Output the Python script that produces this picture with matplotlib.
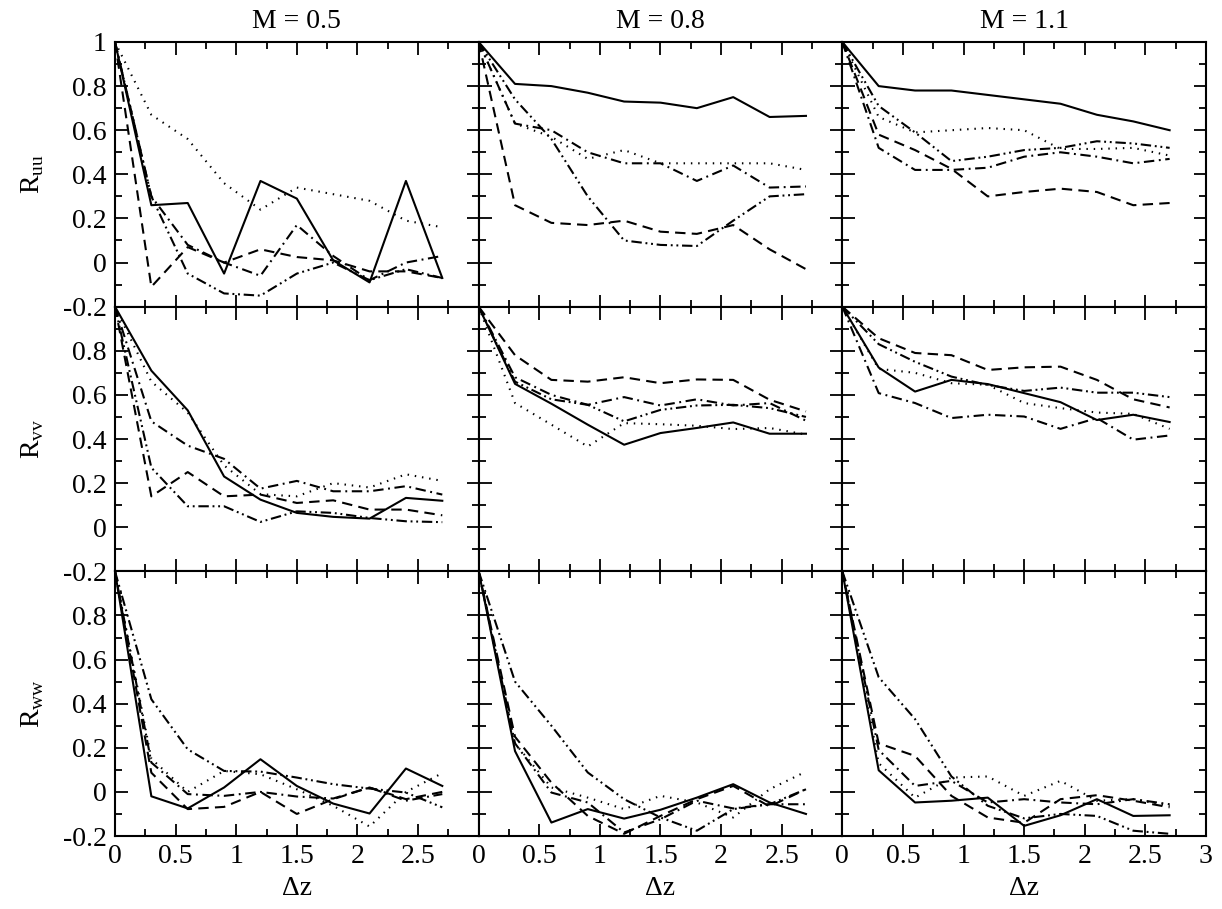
import matplotlib
matplotlib.use("Agg")
import matplotlib.pyplot as plt
from matplotlib.ticker import MultipleLocator, FuncFormatter

plt.rcParams['font.family'] = ['Liberation Serif', 'DejaVu Serif']
plt.rcParams['mathtext.fontset'] = 'custom'
plt.rcParams['mathtext.rm'] = 'Liberation Serif'
plt.rcParams['axes.unicode_minus'] = False

# separation points
dz = [0.0, 0.3, 0.6, 0.9, 1.2, 1.5, 1.8, 2.1, 2.4, 2.7]

mach = ["M = 0.5", "M = 0.8", "M = 1.1"]
row_labels = [r"R$_{\rm uu}$", r"R$_{\rm vv}$", r"R$_{\rm ww}$"]

# each panel: [solid, dashed, dotted, dash-dot, dash-dot-dot]
ruu_m05 = [
    [1.0, 0.26, 0.27, -0.05, 0.37, 0.29, 0.01, -0.09, 0.37, -0.07],
    [1.0, -0.11, 0.07, 0.00, 0.06, 0.025, 0.01, -0.04, -0.04, -0.07],
    [1.0, 0.67, 0.56, 0.36, 0.24, 0.34, 0.31, 0.28, 0.19, 0.16],
    [1.0, 0.30, 0.08, 0.00, -0.06, 0.17, 0.03, -0.08, 0.00, 0.03],
    [1.0, 0.30, -0.05, -0.14, -0.15, -0.05, 0.00, -0.08, -0.03, -0.07],
]
ruu_m08 = [
    [1.0, 0.81, 0.80, 0.77, 0.73, 0.725, 0.70, 0.75, 0.66, 0.665],
    [1.0, 0.26, 0.18, 0.17, 0.19, 0.14, 0.13, 0.17, 0.06, -0.03],
    [1.0, 0.63, 0.57, 0.47, 0.51, 0.45, 0.45, 0.45, 0.45, 0.42],
    [1.0, 0.63, 0.60, 0.50, 0.45, 0.45, 0.37, 0.44, 0.34, 0.345],
    [1.0, 0.74, 0.56, 0.30, 0.10, 0.08, 0.075, 0.19, 0.30, 0.31],
]
ruu_m11 = [
    [1.0, 0.80, 0.78, 0.78, 0.76, 0.74, 0.72, 0.67, 0.64, 0.60],
    [1.0, 0.58, 0.51, 0.425, 0.30, 0.32, 0.335, 0.32, 0.26, 0.27],
    [1.0, 0.66, 0.59, 0.60, 0.61, 0.60, 0.515, 0.515, 0.52, 0.485],
    [1.0, 0.52, 0.42, 0.42, 0.43, 0.48, 0.50, 0.48, 0.45, 0.47],
    [1.0, 0.71, 0.59, 0.46, 0.48, 0.51, 0.52, 0.55, 0.54, 0.52],
]
rvv_m05 = [
    [1.0, 0.71, 0.53, 0.23, 0.125, 0.065, 0.047, 0.039, 0.133, 0.12],
    [1.0, 0.14, 0.25, 0.14, 0.148, 0.11, 0.122, 0.08, 0.08, 0.054],
    [1.0, 0.66, 0.52, 0.28, 0.15, 0.14, 0.20, 0.18, 0.24, 0.21],
    [1.0, 0.48, 0.37, 0.31, 0.175, 0.21, 0.163, 0.163, 0.186, 0.148],
    [1.0, 0.27, 0.095, 0.095, 0.024, 0.072, 0.065, 0.042, 0.027, 0.023],
]
rvv_m08 = [
    [1.0, 0.65, 0.56, 0.465, 0.374, 0.427, 0.45, 0.475, 0.424, 0.424],
    [1.0, 0.78, 0.668, 0.66, 0.68, 0.653, 0.67, 0.668, 0.578, 0.525],
    [1.0, 0.563, 0.465, 0.366, 0.472, 0.467, 0.46, 0.445, 0.45, 0.42],
    [1.0, 0.68, 0.60, 0.555, 0.59, 0.552, 0.58, 0.552, 0.563, 0.483],
    [1.0, 0.66, 0.58, 0.555, 0.48, 0.532, 0.552, 0.555, 0.54, 0.50],
]
rvv_m11 = [
    [1.0, 0.724, 0.615, 0.668, 0.649, 0.608, 0.567, 0.486, 0.51, 0.477],
    [1.0, 0.857, 0.79, 0.78, 0.713, 0.725, 0.728, 0.668, 0.58, 0.543],
    [1.0, 0.718, 0.70, 0.653, 0.646, 0.563, 0.54, 0.52, 0.514, 0.446],
    [1.0, 0.608, 0.563, 0.495, 0.51, 0.502, 0.446, 0.495, 0.397, 0.416],
    [1.0, 0.83, 0.75, 0.683, 0.645, 0.618, 0.633, 0.61, 0.61, 0.59],
]
rww_m05 = [
    [1.0, -0.02, -0.075, 0.02, 0.148, 0.027, -0.053, -0.098, 0.106, 0.027],
    [1.0, 0.087, -0.078, -0.068, 0.0, -0.10, -0.033, 0.02, -0.033, 0.0],
    [1.0, 0.15, 0.0, 0.095, 0.08, 0.012, -0.063, -0.157, 0.0, 0.085],
    [1.0, 0.133, -0.01, -0.018, 0.0, -0.021, -0.03, 0.02, -0.04, -0.01],
    [1.0, 0.42, 0.193, 0.095, 0.092, 0.065, 0.035, 0.015, -0.003, -0.07],
]
rww_m08 = [
    [1.0, 0.185, -0.139, -0.078, -0.121, -0.081, -0.026, 0.035, -0.048, -0.10],
    [1.0, 0.25, 0.042, -0.109, -0.19, -0.109, -0.033, 0.027, -0.066, 0.012],
    [1.0, 0.22, 0.02, -0.026, -0.078, -0.018, -0.048, -0.116, 0.012, 0.092],
    [1.0, 0.22, -0.003, -0.048, -0.184, -0.124, -0.04, -0.075, -0.056, -0.056],
    [1.0, 0.50, 0.30, 0.088, -0.033, -0.116, -0.176, -0.078, -0.056, 0.012],
]
rww_m11 = [
    [1.0, 0.098, -0.048, -0.04, -0.026, -0.154, -0.106, -0.033, -0.109, -0.106],
    [1.0, 0.22, 0.163, -0.018, -0.116, -0.14, -0.033, -0.015, -0.04, -0.07],
    [1.0, 0.13, -0.026, 0.065, 0.07, -0.018, 0.05, -0.04, -0.033, -0.063],
    [1.0, 0.19, 0.027, 0.05, -0.048, -0.033, -0.048, -0.056, -0.033, -0.056],
    [1.0, 0.52, 0.33, 0.07, -0.063, -0.12, -0.10, -0.109, -0.176, -0.19],
]

panels = [
    [ruu_m05, ruu_m08, ruu_m11],
    [rvv_m05, rvv_m08, rvv_m11],
    [rww_m05, rww_m08, rww_m11],
]

styles = [
    '-',
    (0, (5, 3)),
    (0, (0.7, 2.8)),
    (0, (5, 2.2, 0.9, 2.2)),
    (0, (5, 1.8, 0.9, 1.8, 0.9, 1.8)),
]

fig, axes = plt.subplots(3, 3, figsize=(12.22, 9.09), dpi=100)
fig.subplots_adjust(left=0.0941, right=0.9869, top=0.9538, bottom=0.0803,
                    wspace=0, hspace=0)


def fmt(v, pos):
    return "%g" % round(v, 2)


for i in range(3):
    for j in range(3):
        ax = axes[i][j]
        for series, ls in zip(panels[i][j], styles):
            ax.plot(dz, series, color='black', linestyle=ls, linewidth=1.5)
        ax.set_xlim(0, 3)
        ax.set_ylim(-0.2, 1.0)
        ax.xaxis.set_major_locator(MultipleLocator(0.5))
        ax.xaxis.set_minor_locator(MultipleLocator(0.25))
        ax.yaxis.set_major_locator(MultipleLocator(0.2))
        ax.yaxis.set_minor_locator(MultipleLocator(0.1))
        ax.tick_params(which='both', direction='in', top=True, right=True,
                       labelsize=20, width=1.3)
        ax.tick_params(which='major', length=9, pad=6)
        ax.tick_params(which='minor', length=5)
        for sp in ax.spines.values():
            sp.set_linewidth(1.5)

        # x tick labels only on the bottom row, "3" only on the last column
        if i == 2:
            xmax = 3.0 if j == 2 else 2.5
            ax.xaxis.set_major_formatter(
                FuncFormatter(lambda v, p, xm=xmax: fmt(v, p) if v <= xm + 1e-6 else ""))
            ax.set_xlabel("Δz", fontsize=20, labelpad=5)
        else:
            ax.tick_params(labelbottom=False)

        # y tick labels only on the first column, "1" only on the top row
        if j == 0:
            ymax = 1.0 if i == 0 else 0.8
            ax.yaxis.set_major_formatter(
                FuncFormatter(lambda v, p, ym=ymax: fmt(v, p) if v <= ym + 1e-6 else ""))
            ax.set_ylabel(row_labels[i], fontsize=20, labelpad=12)
        else:
            ax.tick_params(labelleft=False)

        if i == 0:
            ax.set_title(mach[j], fontsize=20, pad=10)

fig.savefig("out.png", dpi=100)
